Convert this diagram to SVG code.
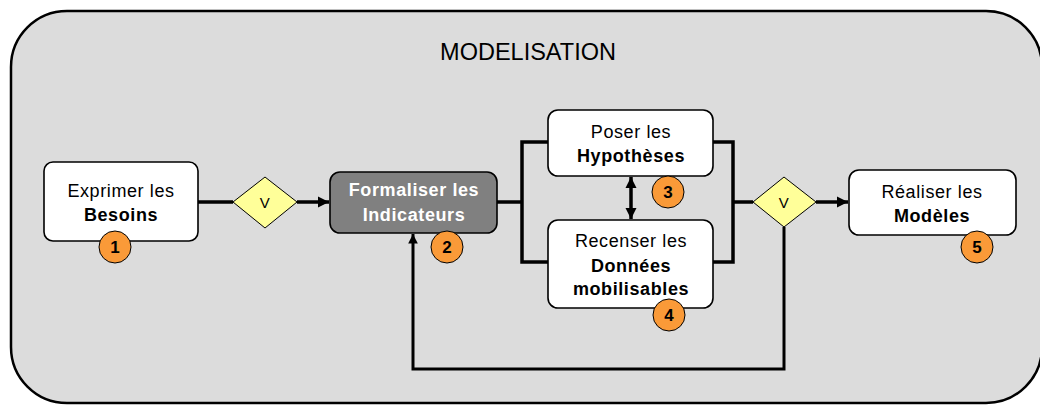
<svg xmlns="http://www.w3.org/2000/svg" width="1040" height="405" viewBox="0 0 1040 405">
<defs>
<marker id="ah" viewBox="0 0 10 10" refX="10" refY="5" markerWidth="3.2" markerHeight="3.2" orient="auto-start-reverse" markerUnits="strokeWidth">
<path d="M0,0 L10,5 L0,10 z" fill="#000"/>
</marker>
<style>
text{font-family:"Liberation Sans",Arial,sans-serif;text-anchor:middle;}
.box{fill:#fff;stroke:#000;stroke-width:1.6;}
.dark{fill:#808080;stroke:#000;stroke-width:1.6;}
.t{font-size:18px;letter-spacing:0.6px;fill:#000;}
.b{font-size:18px;letter-spacing:0.6px;font-weight:bold;fill:#000;}
.w{font-size:18px;letter-spacing:0.6px;font-weight:bold;fill:#fff;}
.badge{fill:#fa9a38;stroke:#000;stroke-width:1;}
.num{font-size:17px;font-weight:bold;fill:#000;}
.dia{fill:#ffff99;stroke:#000;stroke-width:1;}
.c{fill:none;stroke:#000;stroke-width:3.5;}
</style>
</defs>
<rect x="11" y="11" width="1031" height="392" rx="56" ry="56" fill="#dcdcdc" stroke="#000" stroke-width="2.5"/>
<text x="528" y="60" style="font-size:23.5px" fill="#000">MODELISATION</text>

<g id="connectors">
<path class="c" d="M198,202 H233"/>
<path class="c" d="M297,202 H329" marker-end="url(#ah)"/>
<path class="c" d="M497,202 H522"/>
<path class="c" d="M548,142 H522 V262 H548"/>
<path class="c" d="M713,142 H733 V262 H713"/>
<path class="c" d="M733,202 H753"/>
<path class="c" d="M816,202 H848" marker-end="url(#ah)"/>
<path class="c" d="M631,177 V219" marker-start="url(#ah)" marker-end="url(#ah)"/>
<path class="c" style="stroke-width:3" d="M784,227 V369 H413 V234" marker-end="url(#ah)"/>
</g>

<g id="node1">
<rect class="box" x="44" y="162" width="154" height="79" rx="9"/>
<text class="t" x="121" y="197">Exprimer les</text>
<text class="b" x="121" y="221">Besoins</text>
<circle class="badge" cx="115" cy="247" r="16"/>
<text class="num" x="115" y="253">1</text>
</g>

<g id="decision1">
<path class="dia" d="M265,177 L297,202 L265,228 L233,202 z"/>
<text class="t" x="265" y="208" style="font-size:15px">V</text>
</g>

<g id="node2">
<rect class="dark" x="330" y="172" width="167" height="61" rx="10"/>
<text class="w" x="414" y="196">Formaliser les</text>
<text class="w" x="414" y="221">Indicateurs</text>
<circle class="badge" cx="447" cy="247" r="16"/>
<text class="num" x="447" y="253">2</text>
</g>

<g id="node3">
<rect class="box" x="548" y="110" width="165" height="66" rx="10"/>
<text class="t" x="631" y="138">Poser les</text>
<text class="b" x="631" y="162">Hypothèses</text>
<circle class="badge" cx="668" cy="192" r="16"/>
<text class="num" x="668" y="198">3</text>
</g>

<g id="node4">
<rect class="box" x="548" y="220" width="165" height="88" rx="10"/>
<text class="t" x="631" y="247">Recenser les</text>
<text class="b" x="631" y="272">Données</text>
<text class="b" x="631" y="295">mobilisables</text>
<circle class="badge" cx="669" cy="315" r="16"/>
<text class="num" x="669" y="321">4</text>
</g>

<g id="decision2">
<path class="dia" d="M784,177 L816,202 L784,227 L753,202 z"/>
<text class="t" x="784" y="208" style="font-size:15px">V</text>
</g>

<g id="node5">
<rect class="box" x="849" y="170" width="167" height="65" rx="10"/>
<text class="t" x="932" y="198">Réaliser les</text>
<text class="b" x="932" y="222">Modèles</text>
<circle class="badge" cx="977" cy="247" r="16"/>
<text class="num" x="977" y="253">5</text>
</g>
</svg>
